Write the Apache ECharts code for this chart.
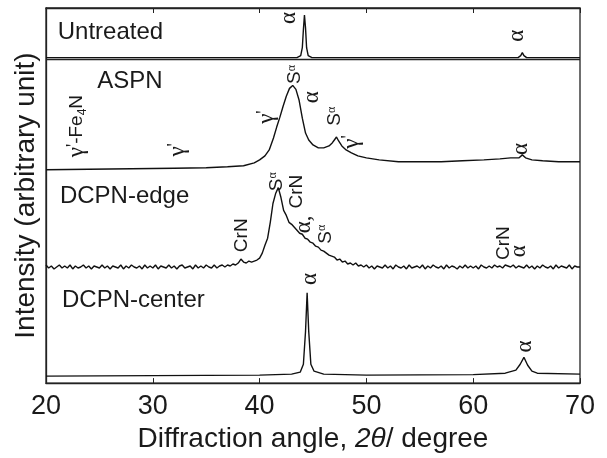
<!DOCTYPE html>
<html>
<head>
<meta charset="utf-8">
<script src="https://cdn.jsdelivr.net/npm/echarts@6/dist/echarts.min.js"></script>
<style>
html, body { margin: 0; padding: 0; background: #fff; }
#chart { width: 607px; height: 458px; }
</style>
</head>
<body>
<div id="chart"></div>
<script>
// 2theta ticks
var xTicks = [20, 30, 40, 50, 60, 70];

// stacking offsets of each pattern (arbitrary unit)
var offsets = { untreated: 328, aspn: 215, edge: 117, center: 7 };
var separatorLevel = 326.5;

// [2theta, intensity]
var untreated = [
	[20, 0], [43.5, 0], [43.85, 2], [44.0, 10], [44.1, 28], [44.2, 43], [44.3, 30], [44.4, 10],
	[44.55, 2], [44.9, 0], [64.2, 0], [64.45, 2], [64.6, 5], [64.75, 2], [65.0, 0], [70, 0]
];

var aspn = [
	[20, 0], [24, 0.5], [28, 1], [32, 1.5], [35, 2], [37, 3], [38.5, 4], [39.5, 7], [40.0, 10],
	[40.5, 14], [40.9, 20], [41.3, 32], [41.6, 43], [41.9, 53], [42.2, 64], [42.5, 74], [42.8, 82],
	[43.1, 85], [43.4, 81], [43.7, 70], [44.0, 52], [44.3, 37], [44.6, 30], [45.0, 25], [45.5, 22],
	[46.0, 22], [46.5, 24], [46.8, 27], [47.0, 30], [47.2, 33], [47.4, 29], [47.7, 24], [48.1, 20],
	[48.6, 17], [49.2, 14], [50, 12], [51.2, 10], [53, 8], [55, 8], [57, 8], [59, 9], [61, 10],
	[62.5, 11], [63.5, 12], [64.3, 12], [64.6, 15], [64.9, 12], [65.5, 10], [66.5, 9], [68, 8], [70, 8]
];

// DCPN-edge, one value every 0.25 deg from 20 to 70
var edgeStart = 20, edgeStep = 0.25;
var edge = [
	2, -1, 1, -2, 0, 2, -1, 1, -1, 2, -2, 1, -1, 0, 2, -1, 1, -2, 1, 0,
	-1, 2, -1, 1, -2, 1, 0, -1, 2, -2, 1, -1, 2, 0, -1, 1, -2, 2, -1, 1,
	-1, 2, -2, 1, 0, -1, 2, -1, 1, -2, 1, 2, -1, 0, 1, -2, 2, -1, 1, -1,
	2, 0, -1, 2, -1, 1, 2, 0, 2, 1, 3, 2,
	4, 8, 5, 4, 6, 5, 6, 7,
	9, 14, 22, 29, 45, 64, 74, 80,
	70, 57, 52, 45, 43, 40, 37, 34,
	33, 29, 28, 25, 24, 21, 20, 17,
	16, 14, 12, 11, 10, 7, 8, 5,
	6, 3, 4, 2, 4, 1, 2, 0,
	2, -1, 1, -2, 1, 0, -1, 2, -1, 1, -2, 2, 0, -1, 1, -2, 2, -1, 0, 1,
	-1, 2, -2, 1, -1, 2, 0, -1, 1, -2, 2, -1, 1, 0, -2, 1, -1, 2, -1, 1,
	-1, 1, -2, 2, 0, -1, 1, -1, 2, 0, 1, -1, 2, 1, 0, 2, -1, 1, 0, -1,
	2, -1, 1, -2, 1, -1, 2, 0, -1, 1, -2, 2, -1, 1, 0, -1, 2, -2, 1, 0,
	0
];

var center = [
	[20, 0], [30, 0.5], [40, 1], [43, 2], [43.8, 4], [44.1, 12], [44.3, 45], [44.45, 84],
	[44.6, 45], [44.8, 12], [45.1, 5], [46, 2], [50, 1], [60, 1.5], [63, 3], [64.0, 6],
	[64.4, 12], [64.75, 19], [65.1, 11], [65.5, 5], [66, 3], [70, 2]
];

// peak labels: [text, 2theta, level]
var peakLabels = [
	['{a|α}', 42.75, 368],
	['{a|α}', 64.1, 350],
	['{s|S}{sup|α}', 43.3, 311],
	['{a|α}', 44.9, 288],
	['{a|γ}{p|\'}', 40.7, 268],
	['{s|S}{sup|α}', 47.05, 269],
	['{a|γ}{p|\'}', 48.65, 243],
	['{a|α}', 64.5, 236],
	['{a|γ}{p|\'}', 32.35, 235],
	['{a|γ}{p|\'}{s|-Fe}{sub|4}{s|N}', 22.9, 259],
	['{s|S}{sup|α}', 41.6, 203],
	['{s|CrN}', 43.5, 193],
	['{a|α,}', 44.15, 160],
	['{s|S}{sup|α}', 46.2, 150],
	['{s|CrN}', 38.35, 149],
	['{s|CrN}', 62.9, 141],
	['{a|α}', 64.3, 133],
	['{a|α}', 44.7, 105],
	['{a|α}', 64.85, 37]
];

// pattern names: [text, 2theta, level]
var panelNames = [
	['Untreated', 21.1, 353],
	['ASPN', 24.8, 304],
	['DCPN-edge', 21.3, 188],
	['DCPN-center', 21.5, 83]
];

function shift(arr, off) {
	return arr.map(function(p) { return [p[0], p[1] + off]; });
}

var edgeData = edge.map(function(v, i) { return [edgeStart + i * edgeStep, v + offsets.edge]; });

var lineStyle = { color: '#111', width: 1.4 };
function traceSeries(name, data) {
	return {
		name: name, type: 'line', data: data, showSymbol: false, symbol: 'none',
		lineStyle: lineStyle, animation: false, silent: true
	};
}

var chart = echarts.init(document.getElementById('chart'));
var unSeries = traceSeries('Untreated', shift(untreated, offsets.untreated));
unSeries.markLine = {
	silent: true, symbol: 'none', label: { show: false },
	lineStyle: { color: '#222', width: 1.4, type: 'solid' },
	data: [{ yAxis: separatorLevel }]
};

var option = {
	backgroundColor: '#fff',
	animation: false,
	grid: { left: 46, right: 27, top: 8, bottom: 72, show: true, borderColor: '#222', borderWidth: 1.3 },
	xAxis: [{
		type: 'value', min: xTicks[0], max: xTicks[xTicks.length - 1], interval: 10, position: 'bottom',
		axisLine: { show: true, lineStyle: { color: '#222', width: 1.3 } },
		axisTick: { show: true, inside: true, length: 5, lineStyle: { color: '#222' } },
		axisLabel: { fontSize: 27, color: '#1a1a1a', margin: 10, fontFamily: 'Liberation Sans' },
		splitLine: { show: false },
		name: '{n|Diffraction angle, }{i|2θ}{n|/ degree}',
		nameLocation: 'middle', nameGap: 40,
		nameTextStyle: {
			rich: {
				n: { fontSize: 28, color: '#1a1a1a', fontFamily: 'Liberation Sans' },
				i: { fontSize: 28, color: '#1a1a1a', fontFamily: 'Liberation Sans', fontStyle: 'italic' }
			}
		}
	}, {
		type: 'value', min: xTicks[0], max: xTicks[xTicks.length - 1], interval: 10, position: 'top',
		axisLine: { show: true, lineStyle: { color: '#222', width: 1.3 } },
		axisTick: { show: true, inside: true, length: 5, lineStyle: { color: '#222' } },
		axisLabel: { show: false }, splitLine: { show: false }
	}],
	yAxis: {
		type: 'value', min: 0, max: 378,
		axisLine: { show: true, lineStyle: { color: '#222', width: 1.3 } },
		axisTick: { show: false }, axisLabel: { show: false }, splitLine: { show: false },
		name: 'Intensity (arbitrary unit)', nameLocation: 'middle', nameGap: 6,
		nameTextStyle: { fontSize: 28, color: '#1a1a1a', fontFamily: 'Liberation Sans' }
	},
	series: [
		unSeries,
		traceSeries('ASPN', shift(aspn, offsets.aspn)),
		traceSeries('DCPN-edge', edgeData),
		traceSeries('DCPN-center', shift(center, offsets.center))
	]
};
chart.setOption(option);

// texts placed through the grid's own scales
var richLabel = {
	a: { fontSize: 23, fontFamily: 'Liberation Serif', fill: '#1a1a1a' },
	p: { fontSize: 18, fontFamily: 'Liberation Serif', fill: '#1a1a1a', verticalAlign: 'top' },
	s: { fontSize: 19, fontFamily: 'Liberation Sans', fill: '#1a1a1a' },
	sup: { fontSize: 12, fontFamily: 'Liberation Serif', fill: '#1a1a1a', verticalAlign: 'top' },
	sub: { fontSize: 12, fontFamily: 'Liberation Sans', fill: '#1a1a1a', verticalAlign: 'bottom' }
};
var graphics = [];
peakLabels.forEach(function(l) {
	var pt = chart.convertToPixel({ gridIndex: 0 }, [l[1], l[2]]);
	graphics.push({
		type: 'text', x: pt[0], y: pt[1], rotation: Math.PI / 2, silent: true,
		style: { text: l[0], rich: richLabel, align: 'center', verticalAlign: 'middle', fill: '#1a1a1a' }
	});
});
panelNames.forEach(function(l) {
	var pt = chart.convertToPixel({ gridIndex: 0 }, [l[1], l[2]]);
	graphics.push({
		type: 'text', x: pt[0], y: pt[1], silent: true,
		style: { text: l[0], fontSize: 24, fontFamily: 'Liberation Sans', fill: '#1a1a1a', align: 'left', verticalAlign: 'middle' }
	});
});
chart.setOption({ graphic: graphics });
</script>
</body>
</html>
